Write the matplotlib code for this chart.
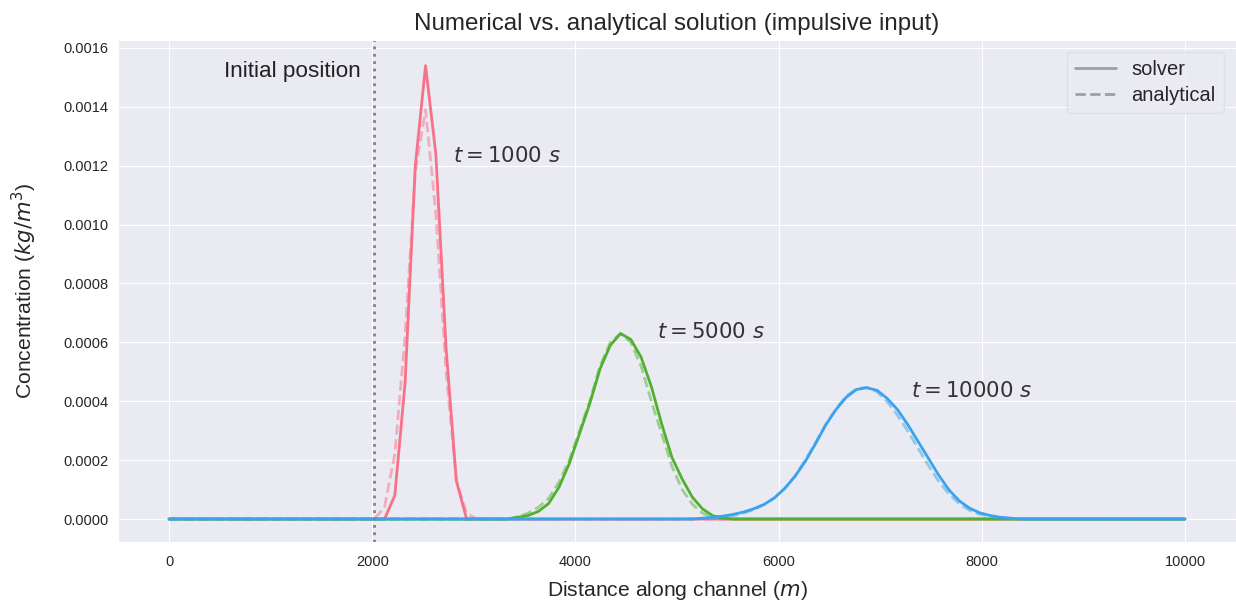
import numpy as np
import matplotlib
matplotlib.use("Agg")
import matplotlib.pyplot as plt
import seaborn as sns
from matplotlib.lines import Line2D

# ---- data ----
n_points = 100
x_start, x_end = 0, 10000
times = [1000, 5000, 10000]
x0 = 2020.2  # initial position

# (start index, values) for non-zero parts of each series; the rest is zero
red_solver_start = 21
red_solver = [0.0, 0.00008, 0.00046, 0.00120, 0.00154, 0.00124, 0.00058, 0.00013, 0.0]
red_analytic_start = 20
red_analytic = [0.0, 0.00004, 0.00022, 0.00062, 0.00118, 0.00139, 0.00104, 0.00050, 0.00013, 0.00002, 0.0]

green_solver_start = 33
green_solver = [0.0, 0.000006, 0.000012, 0.000026, 0.000053, 0.000108, 0.000188, 0.00029, 0.000392,
                0.00051, 0.00059, 0.00063, 0.00061, 0.00055, 0.00045, 0.000324, 0.00021, 0.000136,
                0.000074, 0.000034, 0.000011, 0.000003, 0.0]
green_analytic_start = 33
green_analytic = [0.0, 0.000008, 0.00002, 0.00004, 0.00007, 0.000125, 0.0002, 0.0003, 0.0004,
                  0.00052, 0.0006, 0.00063, 0.0006, 0.00052, 0.0004, 0.00029, 0.00018, 0.0001,
                  0.00005, 0.00002, 0.000007, 0.0, 0.0]

blue_solver_start = 51
blue_solver = [0.0, 0.000003, 0.000006, 0.00001, 0.000016, 0.000024, 0.000035, 0.00005, 0.000072,
               0.000104, 0.000145, 0.000196, 0.000256, 0.00032, 0.000372, 0.000414, 0.00044, 0.000446,
               0.000437, 0.000409, 0.000371, 0.00032, 0.000263, 0.000206, 0.000149, 0.000099,
               0.000062, 0.000037, 0.000021, 0.000012, 0.000006, 0.000003, 0.0]
blue_analytic_start = 51
blue_analytic = [0.0, 0.000002, 0.000004, 0.000007, 0.000012, 0.00002, 0.000032, 0.000049, 0.000072,
                 0.000104, 0.000146, 0.0002, 0.00026, 0.000322, 0.000375, 0.000418, 0.000443, 0.000447,
                 0.000432, 0.000398, 0.000352, 0.000298, 0.00024, 0.000182, 0.000128, 0.000085,
                 0.000052, 0.00003, 0.000016, 0.000008, 0.000004, 0.000002, 0.0]

label_pos = [(2800, 0.0012), (4800, 0.0006), (7300, 0.0004)]


def full(start, vals):
    arr = np.zeros(n_points)
    arr[start:start + len(vals)] = vals
    return arr


x = np.linspace(x_start, x_end, n_points)
solvers = [full(red_solver_start, red_solver), full(green_solver_start, green_solver),
           full(blue_solver_start, blue_solver)]
analytics = [full(red_analytic_start, red_analytic), full(green_analytic_start, green_analytic),
             full(blue_analytic_start, blue_analytic)]

sns.set_style("darkgrid")
plt.rcParams['font.family'] = ['Liberation Sans', 'DejaVu Sans']
plt.rcParams['mathtext.fontset'] = 'dejavusans'

colors = sns.color_palette("husl", 3)

fig = plt.figure(figsize=(12.36, 6.04), dpi=100)
ax = fig.add_axes([118 / 1236, 62 / 604, 1118 / 1236, 502 / 604])

for c, s, a, t, pos in zip(colors, solvers, analytics, times, label_pos):
    ax.plot(x, s, color=c, lw=2)
    ax.plot(x, a, color=c, lw=2, ls='--', alpha=0.5)
    ax.text(pos[0], pos[1], r'$t = %d\ s$' % t, fontsize=15.3, color='#333333',
            ha='left', va='bottom')

ax.axvline(x0, color='gray', ls=':', lw=2)
ax.text(1890, 0.00152, 'Initial position', fontsize=16.2, ha='right', va='center', color='#222222')

ax.set_xlim(-502, 10502)
ax.set_ylim(-0.000078, 0.001627)
ax.set_yticks(np.arange(0, 0.00161, 0.0002))
ax.set_yticklabels(['%.4f' % v for v in np.arange(0, 0.00161, 0.0002)])
ax.set_xticks([0, 2000, 4000, 6000, 8000, 10000])
ax.tick_params(labelsize=10.5, colors='#262626')
ax.tick_params(axis='x', pad=6)

ax.set_xlabel(r'Distance along channel ($m$)', fontsize=15.2, color='#262626', labelpad=7)
ax.set_ylabel(r'Concentration ($kg/m^3$)', fontsize=15.2, color='#262626', labelpad=17)
ax.set_title('Numerical vs. analytical solution (impulsive input)', fontsize=17.4, color='#262626', pad=7)

handles = [Line2D([0], [0], color='gray', lw=2, alpha=0.7),
           Line2D([0], [0], color='gray', lw=2, ls='--', alpha=0.7)]
leg = ax.legend(handles, ['solver', 'analytical'], loc='upper right', fontsize=14.5,
                frameon=True, facecolor='#EAEAF2', edgecolor='#dddde6', framealpha=0.8,
                labelspacing=0.35, borderaxespad=0.6)

fig.savefig('out.png', dpi=100)
